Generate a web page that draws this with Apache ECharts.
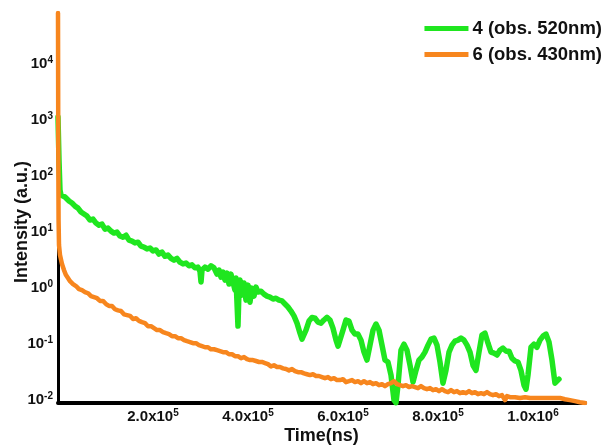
<!DOCTYPE html>
<html>
<head>
<meta charset="utf-8">
<script src="https://cdn.jsdelivr.net/npm/echarts@6/dist/echarts.min.js"></script>
<style>
  html, body { margin: 0; padding: 0; background: #fff; }
  #chart { width: 606px; height: 447px; }
</style>
</head>
<body>
<div id="chart"></div>
<script>
// Luminescence decay traces: time (ns) and intensity (a.u.)
const seriesNames = ['4 (obs. 520nm)', '6 (obs. 430nm)'];

const timeGreen = [
  0, 2100, 4200, 6300, 10500, 14700, 18900, 23200, 29500, 35800,
  42100, 48400, 54700, 61100, 67400, 73700, 80000, 86300, 92600, 98900,
  105300, 111600, 117900, 124200, 130500, 136800, 143200, 149500, 155800, 162100,
  168400, 174700, 181100, 187400, 193700, 200000, 206300, 212600, 218900, 225300,
  231600, 237900, 244200, 250500, 256800, 263200, 269500, 275800, 282100, 288400,
  294700, 298900, 301100, 303200, 309500, 315800, 322100, 328400, 334700, 339000,
  343200, 347400, 351600, 355800, 360000, 364200, 368400, 372600, 374700, 378900,
  381100, 383200, 387400, 391600, 395800, 400000, 404200, 408400, 412600, 416800,
  421100, 427400, 433700, 440000, 446300, 452600, 458900, 465300, 471600, 477900,
  484200, 490500, 496800, 503200, 509500, 513700, 517900, 522100, 528400, 534700,
  541100, 547400, 553700, 560000, 566300, 572600, 578900, 585300, 589500, 593700,
  600000, 606300, 612600, 619000, 625300, 631600, 637900, 644200, 650500, 656800,
  663200, 669500, 675800, 682100, 688400, 694700, 701100, 707400, 711600, 715800,
  722100, 728400, 734700, 741100, 747400, 753700, 760000, 766300, 772600, 779000,
  785300, 791600, 797900, 804200, 810500, 816800, 823200, 829500, 835800, 842100,
  848400, 854700, 861100, 867400, 873700, 880000, 886300, 892600, 899000, 905300,
  911600, 917900, 924200, 930500, 936800, 943200, 949500, 955800, 962100, 968400,
  974700, 981100, 985300, 989500, 995800, 1002100, 1008400, 1014700, 1021100, 1027400,
  1033700, 1040000, 1046300, 1050500, 1054700
];
const intensityGreen = [
  1130, 193, 56, 45.8, 49.7, 42.2, 44, 35.8, 33, 29.1,
  26.8, 22.8, 21.0, 19.3, 16.4, 17.1, 14.5, 13.3, 13.9, 11.3,
  11.8, 10.4, 9.6, 10.0, 8.5, 8.1, 8.8, 7.2, 6.9, 6.4,
  6.6, 5.6, 5.4, 5.0, 5.2, 4.6, 4.8, 4.05, 4.4, 3.7,
  3.9, 3.4, 3.16, 3.4, 2.9, 2.7, 2.8, 2.5, 2.6, 2.3,
  2.37, 2.0, 1.28, 2.1, 2.37, 2.18, 2.5, 2.3, 1.78, 2.1,
  1.57, 1.93, 1.39, 1.85, 1.18, 1.78, 1.64, 0.92, 1.51, 0.21,
  0.92, 1.39, 0.75, 1.23, 0.61, 1.13, 0.56, 1.0, 0.72, 1.04,
  0.85, 0.88, 0.78, 0.72, 0.69, 0.64, 0.66, 0.61, 0.59, 0.52,
  0.46, 0.39, 0.32, 0.237, 0.157, 0.123, 0.128, 0.178, 0.258, 0.30,
  0.29, 0.247, 0.237, 0.27, 0.30, 0.27, 0.193, 0.118, 0.092, 0.096,
  0.178, 0.27, 0.258, 0.178, 0.151, 0.151, 0.118, 0.072, 0.052, 0.096,
  0.178, 0.228, 0.178, 0.096, 0.052, 0.048, 0.028, 0.0100, 0.0090, 0.0185,
  0.078, 0.1, 0.078, 0.042, 0.021, 0.034, 0.052, 0.059, 0.072, 0.096,
  0.123, 0.128, 0.096, 0.048, 0.0201, 0.034, 0.072, 0.096, 0.113, 0.118,
  0.128, 0.118, 0.096, 0.072, 0.042, 0.034, 0.072, 0.145, 0.157, 0.104,
  0.072, 0.069, 0.064, 0.078, 0.085, 0.075, 0.075, 0.056, 0.050, 0.048,
  0.034, 0.0185, 0.0157, 0.028, 0.088, 0.1, 0.088, 0.118, 0.139, 0.151,
  0.109, 0.052, 0.0201, 0.021, 0.0237
];

const timeOrange = [
  0, 600, 1200, 2100, 4200, 8400, 12600, 16800, 21000, 25300,
  31600, 37900, 44200, 50500, 56800, 63200, 69500, 75800, 82100, 88400,
  94700, 101100, 107400, 113700, 120000, 126300, 132600, 138900, 145300, 151600,
  157900, 164200, 170500, 176800, 183200, 189500, 195800, 202100, 208400, 214700,
  221100, 227400, 233700, 240000, 246300, 252600, 258900, 265300, 271600, 277900,
  284200, 290500, 296800, 303200, 309500, 315800, 322100, 328400, 334700, 341100,
  347400, 353700, 360000, 366300, 372600, 378900, 385300, 391600, 397900, 404200,
  410500, 416800, 423200, 429500, 435800, 442100, 448400, 454700, 461100, 467400,
  473700, 480000, 486300, 492600, 498900, 505300, 511600, 517900, 524200, 530500,
  536800, 543200, 549500, 555800, 562100, 568400, 574700, 581100, 587400, 593700,
  600000, 606300, 612600, 619000, 625300, 631600, 637900, 644200, 650500, 656800,
  663200, 669500, 675800, 682100, 688400, 694700, 701100, 707400, 713700, 720000,
  726300, 732600, 738900, 745300, 751600, 757900, 764200, 770500, 776800, 783200,
  789500, 795800, 802100, 808400, 814700, 821100, 827400, 833700, 840000, 846300,
  852600, 858900, 865300, 871600, 877900, 884200, 890500, 896800, 903200, 909500,
  915800, 922100, 928400, 934700, 941100, 945300, 951600, 962100, 972600, 983200,
  993700, 1004200, 1014700, 1025300, 1035800, 1046300, 1056800, 1067400, 1077900, 1088400,
  1098900, 1109500
];
const intensityOrange = [
  81400, 291, 16.4, 5.9, 3.9, 2.7, 2.1, 1.71, 1.51, 1.33,
  1.18, 1.09, 0.96, 0.92, 0.85, 0.81, 0.72, 0.69, 0.66, 0.59,
  0.59, 0.52, 0.48, 0.48, 0.42, 0.40, 0.39, 0.34, 0.33, 0.32,
  0.28, 0.29, 0.26, 0.247, 0.237, 0.209, 0.209, 0.193, 0.178, 0.178,
  0.164, 0.157, 0.151, 0.139, 0.139, 0.128, 0.128, 0.118, 0.113, 0.109,
  0.104, 0.104, 0.096, 0.092, 0.088, 0.088, 0.081, 0.081, 0.078, 0.075,
  0.072, 0.072, 0.066, 0.066, 0.061, 0.061, 0.056, 0.059, 0.054, 0.052,
  0.052, 0.050, 0.048, 0.048, 0.046, 0.044, 0.040, 0.042, 0.039, 0.039,
  0.037, 0.036, 0.034, 0.036, 0.033, 0.0316, 0.0316, 0.030, 0.029, 0.028,
  0.029, 0.027, 0.027, 0.0258, 0.0247, 0.0258, 0.0237, 0.0247, 0.0228, 0.0228,
  0.0237, 0.021, 0.0218, 0.0228, 0.021, 0.0218, 0.0201, 0.0218, 0.0201, 0.021,
  0.0193, 0.0201, 0.0185, 0.0193, 0.0178, 0.0193, 0.0201, 0.0218, 0.0193, 0.0185,
  0.0178, 0.0185, 0.0171, 0.0178, 0.0171, 0.0164, 0.0178, 0.0164, 0.0157, 0.0164,
  0.0151, 0.0157, 0.0145, 0.0157, 0.0145, 0.0139, 0.0151, 0.0139, 0.0145, 0.0133,
  0.0139, 0.0133, 0.0145, 0.0133, 0.0139, 0.0128, 0.0133, 0.0128, 0.0139, 0.0128,
  0.0123, 0.0128, 0.0118, 0.0123, 0.0100, 0.0118, 0.0113, 0.0113, 0.0109, 0.0113,
  0.0109, 0.0109, 0.0109, 0.0109, 0.0109, 0.0109, 0.0109, 0.0104, 0.0100, 0.0096,
  0.0092, 0.0089
];

// Labelled ticks
const xTickValues = [200000, 400000, 600000, 800000, 1000000];
const yTickExponents = [-2, -1, 0, 1, 2, 3, 4];

const FONT = "'Liberation Sans', Arial, sans-serif";
const GREEN = '#1fe61f';
const ORANGE = '#f7861e';

function pairs(ts, vs) { return ts.map((t, i) => [t, vs[i]]); }

function xLabel(v) {
  if (xTickValues.indexOf(v) < 0) return '';
  const e = Math.floor(Math.log10(v) + 1e-9);
  const m = (v / Math.pow(10, e)).toFixed(1);
  return '{b|' + m + 'x10}{s|' + e + '}';
}
function yLabel(v) {
  const e = Math.log10(v);
  const r = Math.round(e);
  if (Math.abs(e - r) > 1e-6 || yTickExponents.indexOf(r) < 0) return '';
  return '{b|10}{s|' + r + '}';
}

const richTicks = {
  b: { fontFamily: FONT, fontWeight: 'bold', fontSize: 15, color: '#111', lineHeight: 18 },
  s: { fontFamily: FONT, fontWeight: 'bold', fontSize: 10, color: '#111', lineHeight: 10, verticalAlign: 'top' }
};

const chart = echarts.init(document.getElementById('chart'), null, { renderer: 'canvas' });
chart.setOption({
  animation: false,
  backgroundColor: '#fff',
  grid: { left: 58, right: 21, top: 13, bottom: 44, containLabel: false, outerBoundsMode: 'none' },
  legend: {
    orient: 'vertical',
    right: 4,
    top: 19,
    itemGap: 7,
    itemWidth: 44,
    itemHeight: 5,
    icon: 'rect',
    padding: 0,
    data: seriesNames,
    textStyle: { fontFamily: FONT, fontWeight: 'bold', fontSize: 18.5, color: '#111', padding: [0, 0, 0, -1] }
  },
  xAxis: {
    type: 'value',
    min: 0,
    max: 1109500,
    interval: 200000,
    name: 'Time(ns)',
    nameLocation: 'middle',
    nameGap: 24,
    nameMoveOverlap: false,
    nameTextStyle: { fontFamily: FONT, fontWeight: 'bold', fontSize: 18, color: '#111' },
    axisLine: { show: true, onZero: false, lineStyle: { color: '#000', width: 4 } },
    axisTick: { show: false },
    splitLine: { show: false },
    axisLabel: { margin: 5, formatter: xLabel, rich: richTicks }
  },
  yAxis: {
    type: 'log',
    logBase: 10,
    min: 0.0089,
    max: 81400,
    splitNumber: 7,
    name: 'Intensity (a.u.)',
    nameLocation: 'middle',
    nameGap: 27,
    nameRotate: 90,
    nameMoveOverlap: false,
    nameTextStyle: { fontFamily: FONT, fontWeight: 'bold', fontSize: 18, color: '#111', padding: [0, 28, 0, 0] },
    axisLine: { show: true, onZero: false, lineStyle: { color: '#000', width: 3 } },
    axisTick: { show: false },
    splitLine: { show: false },
    axisLabel: { margin: 5, formatter: yLabel, rich: richTicks }
  },
  series: [
    {
      name: seriesNames[0],
      type: 'line',
      data: pairs(timeGreen, intensityGreen),
      showSymbol: false,
      symbol: 'none',
      color: GREEN,
      lineStyle: { color: GREEN, width: 5.5, join: 'round', cap: 'round' },
      z: 2
    },
    {
      name: seriesNames[1],
      type: 'line',
      data: pairs(timeOrange, intensityOrange),
      showSymbol: false,
      symbol: 'none',
      color: ORANGE,
      lineStyle: { color: ORANGE, width: 4.5, join: 'round', cap: 'round' },
      z: 3
    }
  ]
});
</script>
</body>
</html>
